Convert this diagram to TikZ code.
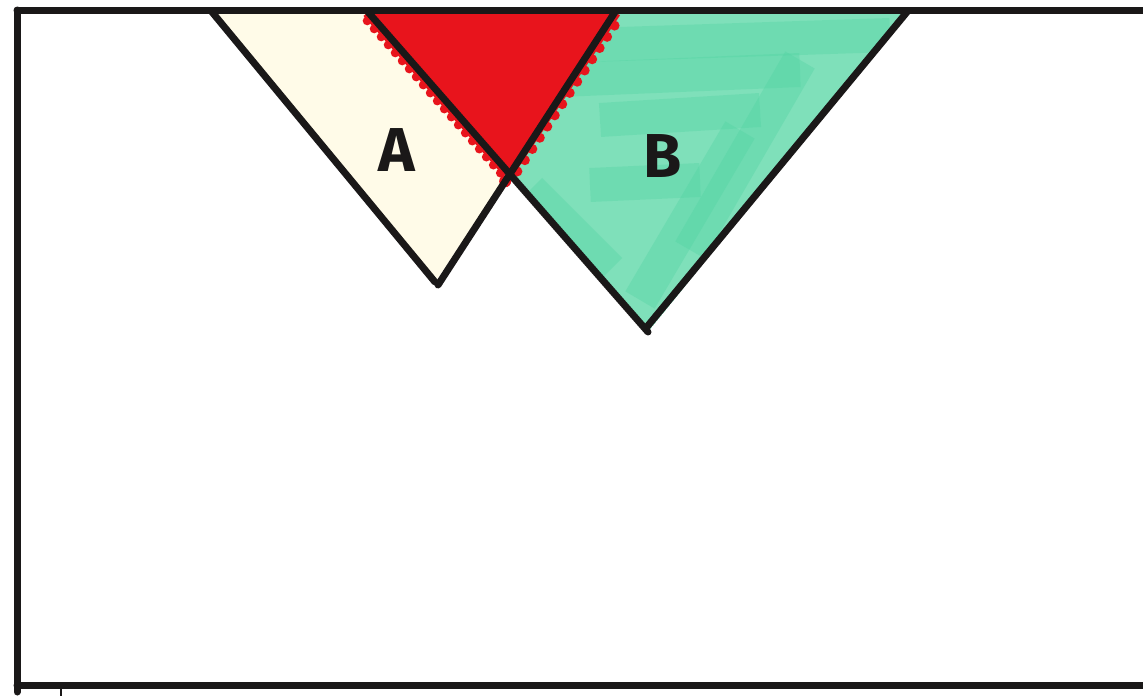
\documentclass[tikz,border=0pt]{standalone}
\usepackage{fontspec}
\setsansfont{Fira Sans}
\usetikzlibrary{calc}
\definecolor{creamA}{HTML}{FFFBE8}
\definecolor{greenB}{HTML}{7FE0BA}
\definecolor{greenStroke}{HTML}{4FD3A2}
\definecolor{redAB}{HTML}{E8141C}
\definecolor{ink}{HTML}{1A1818}
\begin{document}
\begin{tikzpicture}[x=1pt,y=-1pt,
  inkline/.style={draw=ink,line width=7pt,line cap=round},
  marker/.style={draw=greenStroke,line width=34pt,opacity=0.35,line cap=butt},
  letter/.style={font=\sffamily\bfseries\fontsize{62}{62}\selectfont,text=ink,inner sep=0pt}]
\useasboundingbox (0,0) rectangle (1143,696);
\fill[white] (0,0) rectangle (1143,696);
% corners of the triangles
\coordinate (a1) at (212,12);
\coordinate (a2) at (615,12);
\coordinate (a3) at (435,282);
\coordinate (b1) at (368,12);
\coordinate (b2) at (907,12);
\coordinate (b3) at (648,332);
\coordinate (x) at (intersection of a2--a3 and b1--b3);
% fills
\fill[creamA] (a1) -- (a2) -- (a3) -- cycle;
\begin{scope}
  \clip (b1) -- (b2) -- (b3) -- cycle;
  \fill[greenB] (b1) -- (b2) -- (b3) -- cycle;
  \draw[marker] (590,45) -- (890,35);
  \draw[marker] (560,80) -- (800,70);
  \draw[marker] (600,120) -- (760,110);
  \draw[marker] (800,60) -- (690,250);
  \draw[marker] (740,130) -- (640,300);
  \draw[marker] (530,190) -- (610,270);
  \draw[marker] (590,185) -- (700,180);
\end{scope}
\fill[redAB] (b1) -- (a2) -- (x) -- cycle;
% scalloped marker edges of the red part
\draw[redAB,line width=12pt] (b1) -- (x);
\draw[redAB,line width=12pt] (a2) -- (x);
\foreach \t in {0.03,0.08,...,0.99} {
  \fill[redAB] ($(b1)!\t!(x)+(-5,4)$) circle (4.5pt);
}
\foreach \t in {0.06,0.13,...,0.99} {
  \fill[redAB] ($(a2)!\t!(x)+(6,4)$) circle (5pt);
}
\fill[redAB] ($(x)+(-3,9)$) circle (6pt);
% frame
\draw[inkline] (17,10) -- (1143,10);
\draw[inkline] (17,10) -- (17,692);
\draw[inkline] (17,685) -- (1143,685);
\draw[ink,line width=2.5pt] (61,682) -- (61,696);
% triangle edges
\draw[inkline] (a1) -- (a3);
\draw[inkline] ($(a3)+(3,3)$) -- (a2);
\draw[inkline] (b1) -- (b3);
\draw[inkline] ($(b3)+(-2,-4)$) -- (b2);
% labels
\node[letter] (la) at (397,150) {A};
\node[letter] (lb) at (663,156) {B};
\end{tikzpicture}
\end{document}
